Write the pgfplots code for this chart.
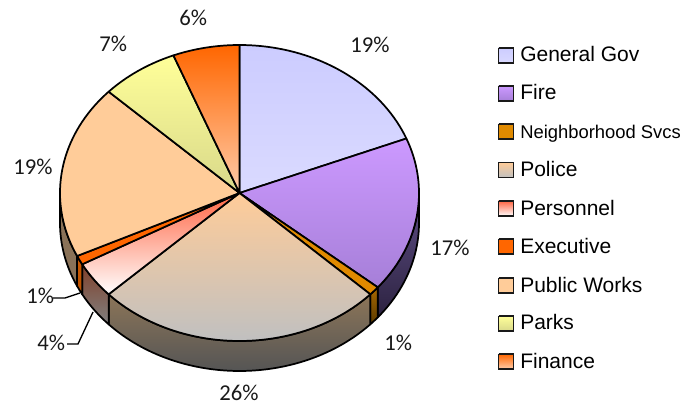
\documentclass[border=0pt]{standalone}
\usepackage{fontspec}
\setmainfont{Liberation Sans}
\newfontfamily\pctfont{Carlito}
\usepackage{pgfplots}
\usepackage{pgfplotstable}
\pgfplotsset{compat=1.18}

% Budget shares, in percent, clockwise from twelve o'clock
\pgfplotstableread{
share
19
17
1
26
4
1
19
7
6
}\budget

% Upper faces of the slices
\pgfplotsset{
  face0/.style={top color=gg1,bottom color=gg2},
  face1/.style={top color=fi1,bottom color=fi2},
  face2/.style={fill=nb1},
  face3/.style={top color=po1,bottom color=po2},
  face4/.style={top color=pe1,middle color=pe3,bottom color=white},
  face5/.style={fill=ex1},
  face6/.style={fill=pw1},
  face7/.style={top color=pa1,bottom color=pa2},
  face8/.style={top color=fn1,bottom color=fn2},
  % Outer walls of the slices
  wall0/.style={fill=black},
  wall1/.style={top color=wfi1,bottom color=wfi2},
  wall2/.style={top color=wnb1,bottom color=wnb2},
  wall3/.style={top color=wpo1,bottom color=wpo2},
  wall4/.style={top color=wpe1,bottom color=wpe2},
  wall5/.style={top color=wex1,bottom color=wex2},
  wall6/.style={fill=wpw1},
  wall7/.style={fill=black},
  wall8/.style={fill=black},
  edge/.style={draw=black,line width=1.3pt,line join=round,no markers},
  swatch/.style={draw=black!90,line width=1.05pt,line join=miter,no markers},
  leader/.style={draw=black,line width=1pt,no markers,sharp plot},
}
\definecolor{gg1}{HTML}{CCCCFF}\definecolor{gg2}{HTML}{DADAFF}
\definecolor{fi1}{HTML}{CC99FF}\definecolor{fi2}{HTML}{A67FD8}
\definecolor{nb1}{HTML}{E08A00}
\definecolor{po1}{HTML}{FFCC99}\definecolor{po2}{HTML}{C0C0C0}
\definecolor{pe1}{HTML}{FF6644}\definecolor{pe3}{HTML}{FFDAD0}
\definecolor{ex1}{HTML}{FF6600}
\definecolor{pw1}{HTML}{FFCC99}
\definecolor{pa1}{HTML}{FFFF99}\definecolor{pa2}{HTML}{D8D88A}
\definecolor{fn1}{HTML}{FF6600}\definecolor{fn2}{HTML}{FFCCAA}
\definecolor{wfi1}{HTML}{5E4E85}\definecolor{wfi2}{HTML}{2C2240}
\definecolor{wnb1}{HTML}{A86800}\definecolor{wnb2}{HTML}{5A3A00}
\definecolor{wpo1}{HTML}{8C7558}\definecolor{wpo2}{HTML}{555555}
\definecolor{wpe1}{HTML}{80402A}\definecolor{wpe2}{HTML}{808080}
\definecolor{wex1}{HTML}{D05A00}\definecolor{wex2}{HTML}{B85000}
\definecolor{wpw1}{HTML}{8A7258}

% Ellipse of the pie top, in pixel units of the axis
\def\cx{239.5}\def\cy{193}\def\rx{179.5}\def\ry{148}\def\depth{30}

\newcount\arcstep
% Appends to \ptlist the rim from share #1 to share #2, shifted down by #3
\def\addarc#1#2#3{%
  \pgfmathtruncatemacro\arcn{max(1,ceil(abs(#2-#1)*2))}%
  \arcstep=0
  \loop
    \pgfmathsetmacro\ang{(#1+(#2-#1)*\the\arcstep/\arcn)*3.6}%
    \pgfmathsetmacro\px{\cx+\rx*sin(\ang)}%
    \pgfmathsetmacro\py{\cy-\ry*cos(\ang)+#3}%
    \xdef\ptlist{\ptlist (\px,\py)}%
    \advance\arcstep by 1
  \ifnum\arcstep>\arcn\else\repeat
}
% Legend swatch: colour style #1, top edge at y = #2
\newcommand\swatchbox[2]{%
  \pgfmathsetmacro\yb{#2+15}%
  \edef\cmd{\noexpand\addplot[swatch,#1] coordinates
    {(498.5,#2) (513.5,#2) (513.5,\yb) (498.5,\yb) (498.5,#2)};}\cmd
}
\newcommand\pct[3]{\node[anchor=base west,inner sep=0pt,text=black!90] at (axis cs:#1,#2) {\pctfont\fontsize{17pt}{17pt}\selectfont #3\%};}
\newcommand\legtext[3][15.75pt]{\node[anchor=base west,inner sep=0pt,text=black] at (axis cs:520,#2) {\fontsize{#1}{#1}\selectfont #3};}

\begin{document}
\begin{tikzpicture}
\useasboundingbox (0,0) rectangle (525pt,304.5pt);
\begin{axis}[
  at={(0,0)},anchor=south west,
  scale only axis,width=525pt,height=304.5pt,
  xmin=0,xmax=700,ymin=0,ymax=406,y dir=reverse,
  hide axis,clip=false,
]
% Walls of the slices on the near side
\def\cum{0}
\pgfplotsforeachungrouped \i in {0,...,8}{%
  \pgfplotstablegetelem{\i}{share}\of\budget
  \pgfmathsetmacro\next{\cum+\pgfplotsretval}%
  \pgfmathsetmacro\wa{max(\cum,25)}%
  \pgfmathsetmacro\wb{min(\next,75)}%
  \ifdim\wa pt<\wb pt
    \gdef\ptlist{}%
    \addarc{\wa}{\wb}{0}%
    \addarc{\wb}{\wa}{\depth}%
    \addarc{\wa}{\wa}{0}%
    \edef\cmd{\noexpand\addplot[edge,wall\i] coordinates {\ptlist};}\cmd
  \fi
  \global\let\cum\next
}
% Upper faces
\gdef\cum{0}
\pgfplotsforeachungrouped \i in {0,...,8}{%
  \pgfplotstablegetelem{\i}{share}\of\budget
  \pgfmathsetmacro\next{\cum+\pgfplotsretval}%
  \xdef\ptlist{(\cx,\cy)}%
  \addarc{\cum}{\next}{0}%
  \xdef\ptlist{\ptlist (\cx,\cy)}%
  \edef\cmd{\noexpand\addplot[edge,face\i] coordinates {\ptlist};}\cmd
  \global\let\cum\next
}
% Leader lines of the two crowded labels
\addplot[leader] coordinates {(53,298) (65,298) (80,293)};
\addplot[leader] coordinates {(67,344) (78,344) (93,312)};
% Slice labels
\pct{350}{53}{19}
\pct{430}{255}{17}
\pct{384}{350}{1}
\pct{219}{400}{26}
\pct{37}{350}{4}
\pct{26}{303}{1}
\pct{13}{175}{19}
\pct{99}{52}{7}
\pct{179}{26}{6}
% Legend
\swatchbox{face0}{48}    \legtext{62}{General Gov}
\swatchbox{face1}{86}    \legtext{100}{Fire}
\swatchbox{face2}{124}   \legtext[13.8pt]{139}{Neighborhood Svcs}
\swatchbox{face3}{162.5} \legtext{177}{Police}
\swatchbox{face4}{201}   \legtext{215}{Personnel}
\swatchbox{face5}{239}   \legtext{253}{Executive}
\swatchbox{face6}{278}   \legtext{292}{Public Works}
\swatchbox{face7}{316}   \legtext{329}{Parks}
\swatchbox{face8}{354}   \legtext{368}{Finance}
\end{axis}
\end{tikzpicture}
\end{document}
